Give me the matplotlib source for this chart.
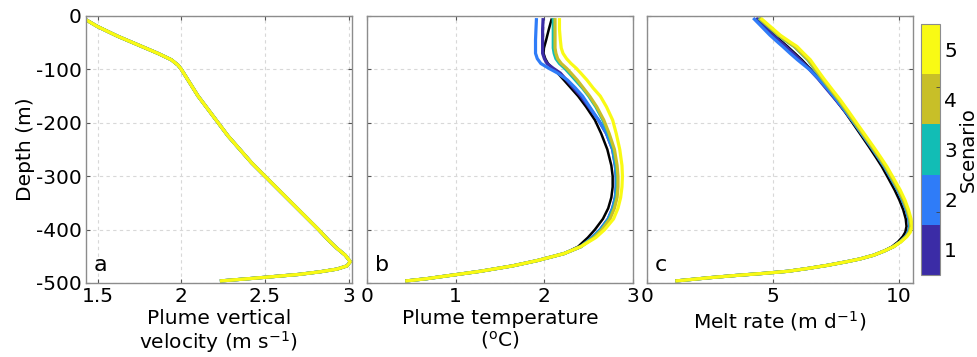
import numpy as np
import matplotlib
matplotlib.use('Agg')
import matplotlib.pyplot as plt
from matplotlib.colors import ListedColormap, BoundaryNorm
from matplotlib.colorbar import ColorbarBase

plt.rcParams['font.family'] = 'DejaVu Sans'
plt.rcParams['axes.unicode_minus'] = False

scen_colors = ['#3b2ca6', '#2f7cf8', '#12bdb5', '#c8bf28', '#f9fa14']
scen_labels = ['1', '2', '3', '4', '5']

# panel a: plume vertical velocity (identical for all scenarios)
vel_depth = [-6, -20, -38, -54, -70, -82, -92, -100, -125, -150, -175, -200, -225,
             -250, -275, -300, -325, -350, -375, -400, -420, -435, -448, -460,
             -468, -474, -479, -484, -488, -492, -496]
vel = [1.424, 1.50, 1.62, 1.74, 1.86, 1.94, 1.98, 2.00, 2.05, 2.10, 2.16, 2.22, 2.28,
       2.35, 2.42, 2.50, 2.58, 2.66, 2.74, 2.82, 2.88, 2.93, 2.98, 3.01,
       2.99, 2.93, 2.83, 2.70, 2.55, 2.40, 2.24]

# panel b: plume temperature
tb_depth = [-7, -25, -45, -60, -70, -80, -89, -98, -107, -120, -135, -150, -170, -195,
            -220, -250, -280, -300, -320, -340, -360, -380, -400, -415, -432, -445,
            -458, -468, -478, -486, -492, -496]
temp_obs = [2.08, 2.05, 2.02, 1.995, 1.99, 2.01, 2.04, 2.09, 2.15, 2.22, 2.30, 2.38, 2.47, 2.57,
            2.64, 2.71, 2.755, 2.77, 2.77, 2.755, 2.72, 2.66, 2.57, 2.49, 2.38, 2.22,
            1.92, 1.64, 1.28, 0.93, 0.67, 0.45]
temp_s1 = [1.985, 1.98, 1.98, 1.98, 1.98, 2.00, 2.03, 2.10, 2.18, 2.25, 2.33, 2.41, 2.50, 2.61,
           2.70, 2.77, 2.80, 2.81, 2.81, 2.80, 2.77, 2.72, 2.63, 2.54, 2.41, 2.22,
           1.92, 1.64, 1.28, 0.93, 0.67, 0.45]
temp_s2 = [1.91, 1.905, 1.90, 1.90, 1.90, 1.92, 1.96, 2.05, 2.15, 2.26, 2.35, 2.43, 2.51, 2.61,
           2.70, 2.77, 2.80, 2.81, 2.81, 2.80, 2.77, 2.72, 2.63, 2.54, 2.41, 2.22,
           1.92, 1.64, 1.28, 0.93, 0.67, 0.45]
temp_s3 = [2.10, 2.10, 2.10, 2.10, 2.11, 2.13, 2.17, 2.23, 2.28, 2.35, 2.43, 2.50, 2.58, 2.66,
           2.72, 2.78, 2.81, 2.82, 2.82, 2.81, 2.78, 2.73, 2.64, 2.55, 2.41, 2.22,
           1.92, 1.64, 1.28, 0.93, 0.67, 0.45]
temp_s4 = [2.12, 2.12, 2.12, 2.12, 2.13, 2.15, 2.19, 2.25, 2.30, 2.37, 2.44, 2.51, 2.59, 2.67,
           2.73, 2.79, 2.82, 2.83, 2.83, 2.82, 2.79, 2.74, 2.65, 2.56, 2.41, 2.22,
           1.92, 1.64, 1.28, 0.93, 0.67, 0.45]
temp_s5 = [2.17, 2.17, 2.18, 2.19, 2.21, 2.25, 2.30, 2.36, 2.41, 2.48, 2.55, 2.63, 2.70, 2.77,
           2.81, 2.85, 2.875, 2.88, 2.875, 2.86, 2.83, 2.78, 2.68, 2.58, 2.41, 2.22,
           1.92, 1.64, 1.28, 0.93, 0.67, 0.45]

# panel c: melt rate
mc_depth = [-6, -20, -36, -50, -57, -70, -82, -100, -117, -139, -157, -180, -201, -225,
            -245, -265, -282, -305, -326, -345, -363, -380, -394, -405, -413, -423,
            -432, -440, -448, -455, -460, -467, -473, -478, -482, -486, -490, -496]
melt_obs = [4.42, 4.72, 5.06, 5.40, 5.57, 5.87, 6.14, 6.50, 6.82, 7.20, 7.49, 7.86, 8.17, 8.52,
            8.81, 9.09, 9.32, 9.59, 9.83, 10.02, 10.17, 10.27, 10.30, 10.25, 10.15, 9.96,
            9.72, 9.40, 8.99, 8.45, 7.94, 7.15, 6.35, 5.60, 4.63, 3.50, 2.50, 1.19]
melt_s1 = [4.37, 4.66, 5.00, 5.33, 5.50, 5.80, 6.07, 6.45, 6.78, 7.17, 7.49, 7.89, 8.23, 8.59,
           8.89, 9.18, 9.42, 9.70, 9.95, 10.14, 10.29, 10.39, 10.43, 10.37, 10.27, 10.05,
           9.78, 9.42, 8.99, 8.45, 7.94, 7.15, 6.35, 5.60, 4.63, 3.50, 2.50, 1.19]
melt_s2 = [4.26, 4.55, 4.88, 5.21, 5.38, 5.68, 5.97, 6.44, 6.80, 7.21, 7.52, 7.90, 8.23, 8.59,
           8.89, 9.18, 9.42, 9.70, 9.95, 10.14, 10.29, 10.39, 10.43, 10.37, 10.27, 10.05,
           9.78, 9.42, 8.99, 8.45, 7.94, 7.15, 6.35, 5.60, 4.63, 3.50, 2.50, 1.19]
melt_s3 = [4.48, 4.82, 5.20, 5.62, 5.84, 6.12, 6.38, 6.66, 6.93, 7.29, 7.59, 7.94, 8.25, 8.61,
           8.91, 9.20, 9.44, 9.72, 9.97, 10.16, 10.31, 10.41, 10.45, 10.39, 10.28, 10.05,
           9.78, 9.42, 8.99, 8.45, 7.94, 7.15, 6.35, 5.60, 4.63, 3.50, 2.50, 1.19]
melt_s4 = [4.50, 4.84, 5.22, 5.64, 5.86, 6.14, 6.40, 6.68, 6.95, 7.31, 7.61, 7.96, 8.27, 8.63,
           8.93, 9.22, 9.46, 9.74, 9.99, 10.18, 10.33, 10.43, 10.47, 10.41, 10.29, 10.06,
           9.78, 9.42, 8.99, 8.45, 7.94, 7.15, 6.35, 5.60, 4.63, 3.50, 2.50, 1.19]
melt_s5 = [4.56, 4.90, 5.29, 5.72, 5.95, 6.22, 6.48, 6.75, 7.01, 7.37, 7.67, 8.02, 8.33, 8.69,
           8.99, 9.28, 9.52, 9.80, 10.05, 10.24, 10.38, 10.48, 10.52, 10.45, 10.32, 10.08,
           9.79, 9.42, 8.99, 8.45, 7.94, 7.15, 6.35, 5.60, 4.63, 3.50, 2.50, 1.19]

fig = plt.figure(figsize=(9.78, 3.57), dpi=100)
ax_a = fig.add_axes([0.0879, 0.2073, 0.272, 0.748])
ax_b = fig.add_axes([0.3753, 0.2073, 0.272, 0.748])
ax_c = fig.add_axes([0.6616, 0.2073, 0.272, 0.748])
cax = fig.add_axes([0.9417, 0.2297, 0.0194, 0.703])

lw = 2.3
for s in range(5):
    ax_a.plot(vel, vel_depth, color=scen_colors[s], lw=lw, solid_joinstyle='round')

ax_b.plot(temp_obs, tb_depth, color='black', lw=1.8, zorder=1.9, solid_joinstyle='round')
for s, t in enumerate([temp_s1, temp_s2, temp_s3, temp_s4, temp_s5]):
    ax_b.plot(t, tb_depth, color=scen_colors[s], lw=lw, solid_joinstyle='round', zorder=2)

ax_c.plot(melt_obs, mc_depth, color='black', lw=1.8, zorder=1.9, solid_joinstyle='round')
for s, m in enumerate([melt_s1, melt_s2, melt_s3, melt_s4, melt_s5]):
    ax_c.plot(m, mc_depth, color=scen_colors[s], lw=lw, solid_joinstyle='round', zorder=2)

ax_a.set_xlim(1.43, 3.02)
ax_a.set_xticks([1.5, 2, 2.5, 3])
ax_a.set_xticklabels(['1.5', '2', '2.5', '3'])
ax_b.set_xlim(0, 3)
ax_b.set_xticks([0, 1, 2, 3])
ax_c.set_xlim(0, 10.56)
ax_c.set_xticks([0, 5, 10])

for ax, letter in zip([ax_a, ax_b, ax_c], ['a', 'b', 'c']):
    ax.set_ylim(-500, 0)
    ax.set_yticks([0, -100, -200, -300, -400, -500])
    ax.grid(True, color='#d8d8d8', linestyle=(0, (3, 3)), lw=0.8)
    ax.set_axisbelow(True)
    for sp in ax.spines.values():
        sp.set_color('#8c8c8c')
        sp.set_linewidth(1.0)
    ax.tick_params(direction='in', top=True, right=True, length=3, color='#555555',
                   labelsize=14.5, pad=3)
    ax.text(0.03, 0.03, letter, transform=ax.transAxes, fontsize=16, ha='left', va='bottom')
ax_b.tick_params(labelleft=False)
ax_c.tick_params(labelleft=False)

ax_a.set_ylabel('Depth (m)', fontsize=14.5, labelpad=1)
ax_a.set_xlabel('Plume vertical\nvelocity (m s$^{-1}$)', fontsize=14.5, labelpad=2, linespacing=1.05)
ax_b.set_xlabel('Plume temperature\n($^{\\rm o}$C)', fontsize=14.5, labelpad=2, linespacing=1.05)
ax_c.set_xlabel('Melt rate (m d$^{-1}$)', fontsize=14.5, labelpad=2)

cmap = ListedColormap(scen_colors)
bounds = np.linspace(1, 5, 6)
norm = BoundaryNorm(bounds, cmap.N)
cb = ColorbarBase(cax, cmap=cmap, norm=norm, orientation='vertical')
centers = (bounds[:-1] + bounds[1:]) / 2
cb.set_ticks(centers)
cb.set_ticklabels(scen_labels)
cb.ax.tick_params(length=0, labelsize=14.5, pad=3)
cb.ax.set_yticks([2, 3, 4], minor=True)
cb.ax.tick_params(which='minor', direction='in', length=3, color='#444444')
cb.outline.set_edgecolor('#8c8c8c')
cb.set_label('Scenario', fontsize=14, labelpad=1.5)

fig.savefig('out.png', dpi=100)
